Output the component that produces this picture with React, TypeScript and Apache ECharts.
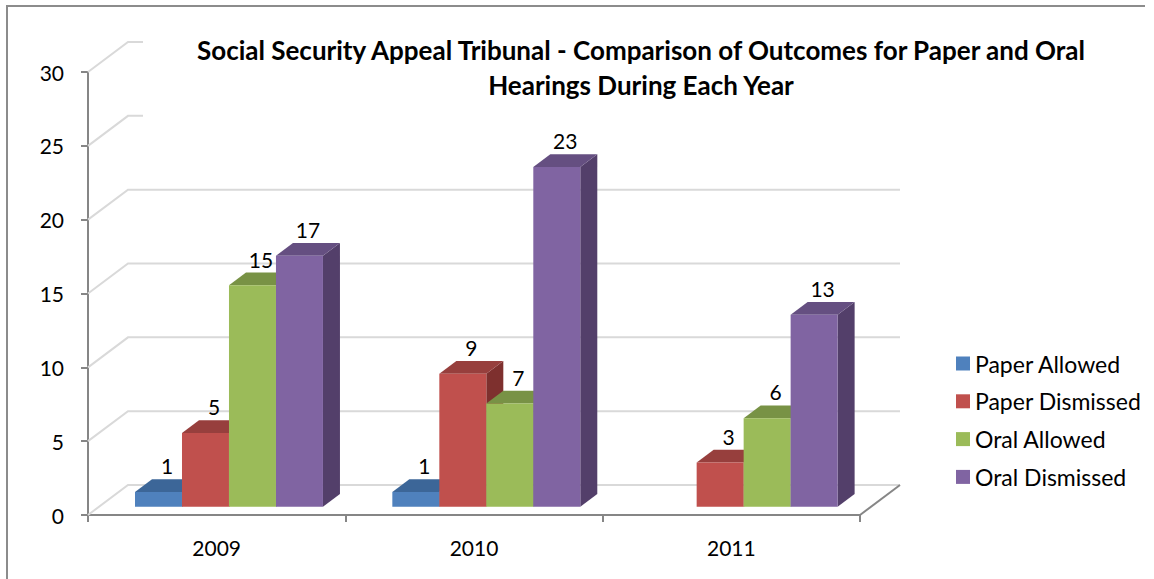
import React, { useEffect, useRef } from "react";
import * as echarts from "echarts";

const CATEGORIES = ["2009", "2010", "2011"];
const SERIES_NAMES = ["Paper Allowed", "Paper Dismissed", "Oral Allowed", "Oral Dismissed"];
const PAPER_ALLOWED = [1, 1, 0];
const PAPER_DISMISSED = [5, 9, 3];
const ORAL_ALLOWED = [15, 7, 6];
const ORAL_DISMISSED = [17, 23, 13];
const Y_TICKS = [0, 5, 10, 15, 20, 25, 30];
const TITLE_LINES = [
  "Social Security Appeal Tribunal - Comparison of Outcomes for Paper and Oral",
  "Hearings During Each Year",
];

const SERIES_VALUES = [PAPER_ALLOWED, PAPER_DISMISSED, ORAL_ALLOWED, ORAL_DISMISSED];
const FRONT = ["#4F81BD", "#C0504D", "#9BBB59", "#8064A2"];
const TOPC = ["#3C6698", "#973F3D", "#789245", "#654F81"];
const SIDE = ["#345987", "#7E302E", "#62773A", "#533F6A"];

const FONT = "Lato, 'Open Sans', sans-serif";
const WALL_DX = 40;
const WALL_DY = -30;
const BAR_FX = 11;
const BAR_FY = -8.25;
const BAR_DX = 17;
const BAR_DY = -12.75;
const GROUP_OFFSET = 0.1399;
const BAR_FRAC = 0.1826;

export default function App() {
  const ref = useRef<HTMLDivElement>(null);
  useEffect(() => {
    if (!ref.current) return;
    const chart = echarts.init(ref.current, null, { renderer: "svg" });

    const gridSeries: any = {
      type: "custom",
      name: "__grid",
      silent: true,
      clip: false,
      z: 1,
      encode: { x: 0, y: 1 },
      data: Y_TICKS.map((v) => [0, v]),
      renderItem: (params: any, api: any) => {
        const cs = params.coordSys;
        const v = api.value(1);
        const y = api.coord([0, v])[1];
        const children: any[] = [
          {
            type: "polyline",
            shape: {
              points: [
                [cs.x, y],
                [cs.x + WALL_DX, y + WALL_DY],
                [cs.x + cs.width + WALL_DX, y + WALL_DY],
              ],
            },
            style: { stroke: "#D9D9D9", lineWidth: 2, fill: null },
          },
        ];
        if (v === 0) {
          children.push({
            type: "line",
            shape: {
              x1: cs.x + cs.width,
              y1: y,
              x2: cs.x + cs.width + WALL_DX,
              y2: y + WALL_DY,
            },
            style: { stroke: "#868686", lineWidth: 2 },
          });
        }
        return { type: "group", children };
      },
    };

    const barSeries = SERIES_VALUES.map((vals, si) => ({
      type: "custom",
      name: SERIES_NAMES[si],
      clip: false,
      z: 3,
      itemStyle: { color: FRONT[si] },
      encode: { x: 0, y: 1 },
      data: vals.map((v, ci) => [ci, v]),
      renderItem: (params: any, api: any) => {
        const ci = api.value(0);
        const v = api.value(1);
        if (!v) return null;
        const bw = api.size([1, 0])[0];
        const base = api.coord([ci, 0]);
        const topY = api.coord([ci, v])[1] + BAR_FY;
        const y0 = base[1] + BAR_FY;
        const w = bw * BAR_FRAC;
        const x = base[0] - bw / 2 + bw * GROUP_OFFSET + si * w + BAR_FX;
        const top = [
          [x, topY],
          [x + w, topY],
          [x + w + BAR_DX, topY + BAR_DY],
          [x + BAR_DX, topY + BAR_DY],
        ];
        const side = [
          [x + w, topY],
          [x + w + BAR_DX, topY + BAR_DY],
          [x + w + BAR_DX, y0 + BAR_DY],
          [x + w, y0],
        ];
        return {
          type: "group",
          children: [
            { type: "polygon", shape: { points: side }, style: { fill: SIDE[si] } },
            { type: "polygon", shape: { points: top }, style: { fill: TOPC[si] } },
            {
              type: "rect",
              shape: { x, y: topY, width: w, height: y0 - topY },
              style: { fill: FRONT[si] },
            },
            {
              type: "text",
              x: x + w / 2 + BAR_DX / 2,
              y: topY + BAR_DY - 3,
              style: {
                text: String(v),
                fill: "#000",
                fontSize: 21,
                fontFamily: FONT,
                align: "center",
                verticalAlign: "bottom",
              },
            },
          ],
        };
      },
    }));

    chart.setOption({
      animation: false,
      backgroundColor: "#fff",
      title: {
        text: TITLE_LINES.join("\n"),
        left: 636,
        top: 27,
        textAlign: "center",
        textStyle: {
          fontFamily: FONT,
          fontWeight: "bold",
          fontSize: 26,
          lineHeight: 35,
          color: "#000",
        },
      },
      graphic: [
        {
          type: "polyline",
          z: 10,
          shape: { points: [[7, 600], [7, 6], [1145, 6]] },
          style: { stroke: "#8C8C8C", lineWidth: 2, fill: null },
        },
        {
          type: "rect",
          z: 5,
          left: 143,
          top: 28,
          shape: { width: 990, height: 92 },
          style: { fill: "#fff" },
        },
      ],
      legend: {
        orient: "vertical",
        left: 951,
        top: 347,
        icon: "rect",
        itemWidth: 14,
        itemHeight: 14,
        itemGap: 14.8,
        data: SERIES_NAMES,
        textStyle: { fontFamily: FONT, fontSize: 23, lineHeight: 22, color: "#000" },
      },
      grid: { left: 88, top: 72, width: 772, height: 443 },
      xAxis: {
        type: "category",
        data: CATEGORIES,
        axisLine: { lineStyle: { color: "#868686", width: 2 } },
        axisTick: { show: true, length: 7, lineStyle: { color: "#868686", width: 2 } },
        axisLabel: { margin: 22, fontFamily: FONT, fontSize: 21, color: "#000" },
      },
      yAxis: {
        type: "value",
        min: 0,
        max: 30,
        interval: 5,
        axisLine: { show: true, lineStyle: { color: "#868686", width: 2 } },
        axisTick: { show: true, length: 7, lineStyle: { color: "#868686", width: 2 } },
        axisLabel: { margin: 24, fontFamily: FONT, fontSize: 21, color: "#000" },
        splitLine: { show: false },
      },
      series: [gridSeries, ...barSeries],
    });
    return () => chart.dispose();
  }, []);
  return (
    <div
      ref={ref}
      style={{ position: "fixed", left: 0, top: 0, width: 1154, height: 579 }}
    />
  );
}
